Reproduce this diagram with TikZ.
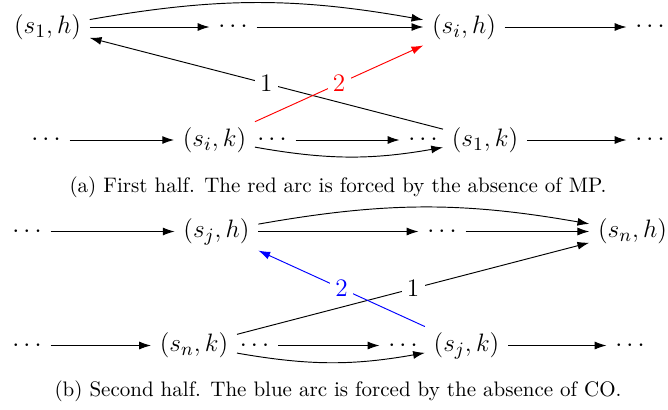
\documentclass[tikz,border=0pt]{standalone}
\usetikzlibrary{arrows.meta,positioning}
\tikzset{
 state/.style={font=\fontsize{13}{16}\selectfont,inner sep=4pt},
 arrow/.style={-{Latex[length=5.6pt,width=3.8pt]},line width=0.45pt},
 wt/.style={fill=white,font=\fontsize{13}{16}\selectfont,inner sep=2.5pt},
 caption/.style={font=\normalsize}
}
\begin{document}
\begin{tikzpicture}[x=0.476pt,y=-0.476pt]
\useasboundingbox (0,0) rectangle (668,409);
% first half
\node[state] (s1h) at (47.5,27) {$(s_1,h)$};
\node[state] (dA) at (233,27) {$\cdots$};
\node[state] (sih) at (464,27) {$(s_i,h)$};
\node[state] (dB) at (650,27) {$\cdots$};
\node[state] (dC) at (46,140) {$\cdots$};
\node[state] (sik) at (214.5,140) {$(s_i,k)$};
\node[state] (dD) at (272,140) {$\cdots$};
\node[state] (dE) at (423,140) {$\cdots$};
\node[state] (s1k) at (485,140) {$(s_1,k)$};
\node[state] (dF) at (650,140) {$\cdots$};
\draw[arrow] (s1h)--(dA);
\draw[arrow] (dA)--(sih);
\draw[arrow] (sih)--(dB);
\draw[arrow] (dC)--(sik);
\draw[arrow] (dD)--(dE);
\draw[arrow] (s1k)--(dF);
\draw[arrow] (s1h) to[bend left=10] (sih);
\draw[arrow] (sik) to[bend right=10] (s1k);
\draw[arrow] (s1k)--node[wt] {$1$} (s1h);
\draw[arrow,red] (sik)--node[wt] {$2$} (sih);
\node[caption] (capa) at (338,187) {(a) First half. The red arc is forced by the absence of MP.};
% second half
\node[state] (dG) at (27,231.5) {$\cdots$};
\node[state] (sjh) at (216.5,231.5) {$(s_j,h)$};
\node[state] (dH) at (442,231.5) {$\cdots$};
\node[state] (snh) at (632.5,231.5) {$(s_n,h)$};
\node[state] (dI) at (27,345.5) {$\cdots$};
\node[state] (snk) at (194,345.5) {$(s_n,k)$};
\node[state] (dJ) at (254.5,345.5) {$\cdots$};
\node[state] (dK) at (403,345.5) {$\cdots$};
\node[state] (sjk) at (466.5,345.5) {$(s_j,k)$};
\node[state] (dL) at (630,345.5) {$\cdots$};
\draw[arrow] (dG)--(sjh);
\draw[arrow] (sjh)--(dH);
\draw[arrow] (dH)--(snh);
\draw[arrow] (dI)--(snk);
\draw[arrow] (dJ)--(dK);
\draw[arrow] (sjk)--(dL);
\draw[arrow] (sjh) to[bend left=10] (snh);
\draw[arrow] (snk) to[bend right=10] (sjk);
\draw[arrow] (snk)--node[wt] {$1$} (snh);
\draw[arrow,blue] (sjk)--node[wt] {$2$} (sjh);
\node[caption] (capb) at (338,391) {(b) Second half. The blue arc is forced by the absence of CO.};
\end{tikzpicture}
\end{document}
